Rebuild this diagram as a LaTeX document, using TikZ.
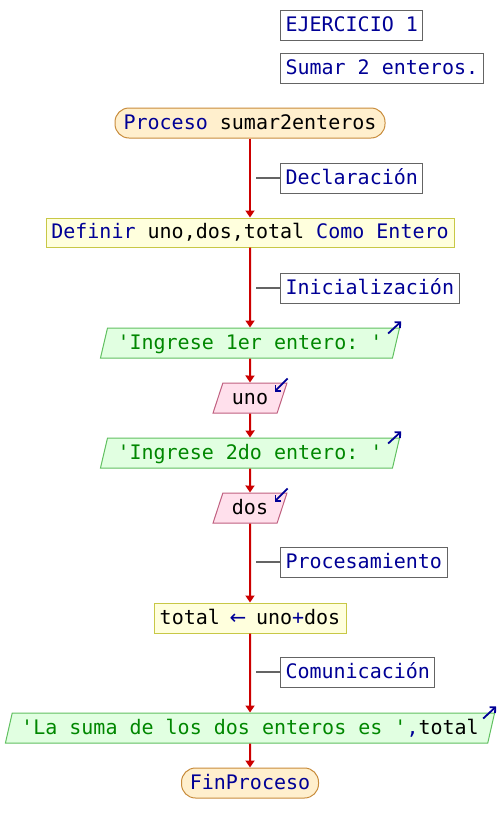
\documentclass[tikz,border=0pt]{standalone}
\usepackage{fontspec}
\setmonofont{DejaVu Sans Mono}
\newfontfamily\arrowfont{DejaVu Sans}
\usetikzlibrary{shapes.geometric,arrows.meta}
\definecolor{kw}{RGB}{0,0,150}
\definecolor{strg}{RGB}{0,135,0}
\definecolor{termF}{RGB}{255,239,205}
\definecolor{termB}{RGB}{200,140,60}
\definecolor{procF}{RGB}{255,255,221}
\definecolor{procB}{RGB}{200,200,70}
\definecolor{outF}{RGB}{225,255,225}
\definecolor{outB}{RGB}{96,192,96}
\definecolor{inF}{RGB}{255,224,236}
\definecolor{inB}{RGB}{192,96,128}
\definecolor{cmtB}{RGB}{100,100,100}
\definecolor{flowR}{RGB}{204,0,0}
\begin{document}
\begin{tikzpicture}[x=1pt,y=-1pt,
  font=\ttfamily\fontsize{20}{24}\selectfont,
  base/.style={inner sep=0pt, minimum height=30pt, text height=15pt, text depth=3pt, line width=1pt},
  term/.style={base, rounded corners=14pt, draw=termB, fill=termF},
  proc/.style={base, draw=procB, fill=procF},
  para/.style={base, trapezium, trapezium left angle=70, trapezium right angle=110, trapezium stretches=true},
  outp/.style={para, draw=outB, fill=outF},
  inp/.style={para, draw=inB, fill=inF},
  cmt/.style={base, draw=cmtB, fill=white, anchor=west, inner xsep=5pt, text=kw},
  flow/.style={draw=flowR, line width=2pt, -{Triangle[width=9pt,length=7pt]}},
  cline/.style={draw=cmtB, line width=1.5pt},
  mini/.style={draw=kw, line width=1.8pt, -{Straight Barb[length=4pt,width=8pt]}}
]
\useasboundingbox (0,0) rectangle (500,833);

\node[cmt] (ej) at (280,25) {EJERCICIO 1};
\node[cmt] (su) at (280,68) {Sumar 2 enteros.};

\node[term, minimum width=270pt] (p0) at (250,123) {{\color{kw}Proceso} sumar2enteros};
\node[cmt] (c1) at (280,178) {Declaración};
\node[proc, minimum width=408pt, minimum height=29pt] (d) at (250,232.5) {{\color{kw}Definir} uno,dos,total {\color{kw}Como Entero}};
\node[cmt] (c2) at (280,288) {Inicialización};
\node[outp, minimum width=300pt] (o1) at (250,343) {\color{strg}'Ingrese 1er entero: '};
\node[inp, minimum width=74pt] (i1) at (250,398) {uno};
\node[outp, minimum width=300pt] (o2) at (250,453) {\color{strg}'Ingrese 2do entero: '};
\node[inp, minimum width=74pt] (i2) at (250,508) {dos};
\node[cmt] (c3) at (280,562) {Procesamiento};
\node[proc, minimum width=192pt] (a) at (250,618) {total \makebox[12pt][c]{\color{kw}\arrowfont ←} uno{\color{kw}+}dos};
\node[cmt] (c4) at (280,672) {Comunicación};
\node[outp, minimum width=490pt] (o3) at (250,728) {{\color{strg}'La suma de los dos enteros es '}{\color{kw},}total};
\node[term, minimum width=137pt] (f) at (250,783) {\color{kw}FinProceso};

\draw[flow] (p0.south) -- (d.north);
\draw[flow] (d.south) -- (o1.north);
\draw[flow] (o1.south) -- (i1.north);
\draw[flow] (i1.south) -- (o2.north);
\draw[flow] (o2.south) -- (i2.north);
\draw[flow] (i2.south) -- (a.north);
\draw[flow] (a.south) -- (o3.north);
\draw[flow] (o3.south) -- (f.north);

\draw[cline] (c1.west) -- ++(-24,0);
\draw[cline] (c2.west) -- ++(-24,0);
\draw[cline] (c3.west) -- ++(-24,0);
\draw[cline] (c4.west) -- ++(-24,0);

\draw[mini] ([xshift=-12pt,yshift=-6pt]o1.top right corner) -- ([xshift=1pt,yshift=6pt]o1.top right corner);
\draw[mini] ([xshift=-12pt,yshift=-6pt]o2.top right corner) -- ([xshift=1pt,yshift=6pt]o2.top right corner);
\draw[mini] ([xshift=-12pt,yshift=-6pt]o3.top right corner) -- ([xshift=1pt,yshift=6pt]o3.top right corner);
\draw[mini] ([xshift=0pt,yshift=4pt]i1.top right corner) -- ([xshift=-13pt,yshift=-9pt]i1.top right corner);
\draw[mini] ([xshift=0pt,yshift=4pt]i2.top right corner) -- ([xshift=-13pt,yshift=-9pt]i2.top right corner);
\end{tikzpicture}
\end{document}
